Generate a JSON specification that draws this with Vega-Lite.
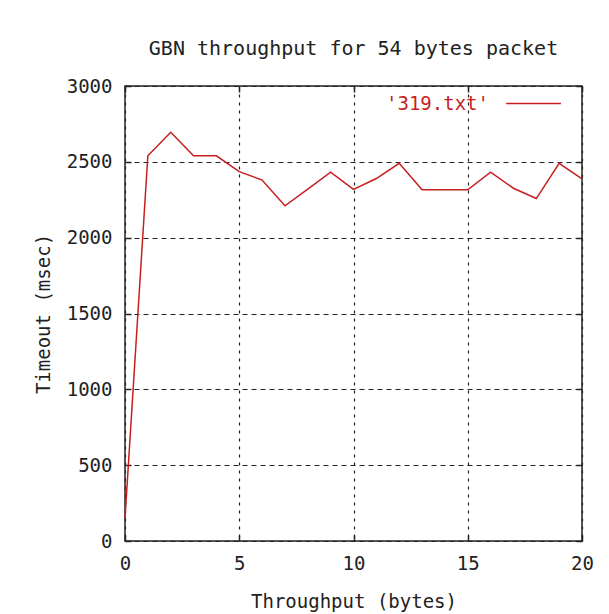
{
  "$schema": "https://vega.github.io/schema/vega-lite/v6.json",
  "width": 457,
  "height": 455,
  "autosize": "none",
  "padding": {"left": 125, "top": 86, "right": 27, "bottom": 73},
  "background": "white",
  "title": {
    "text": "GBN throughput for 54 bytes packet",
    "font": "DejaVu Sans Mono",
    "fontSize": 20,
    "fontWeight": "normal",
    "color": "#222222",
    "offset": 16
  },
  "config": {
    "view": {"stroke": "#222222", "strokeWidth": 1.5},
    "font": "DejaVu Sans Mono"
  },
  "data": {
    "values": [
      {"x": 0, "y": 150, "s": "'319.txt'"},
      {"x": 1, "y": 2540, "s": "'319.txt'"},
      {"x": 2, "y": 2695, "s": "'319.txt'"},
      {"x": 3, "y": 2540, "s": "'319.txt'"},
      {"x": 4, "y": 2540, "s": "'319.txt'"},
      {"x": 5, "y": 2435, "s": "'319.txt'"},
      {"x": 6, "y": 2380, "s": "'319.txt'"},
      {"x": 7, "y": 2210, "s": "'319.txt'"},
      {"x": 8, "y": 2320, "s": "'319.txt'"},
      {"x": 9, "y": 2432, "s": "'319.txt'"},
      {"x": 10, "y": 2318, "s": "'319.txt'"},
      {"x": 11, "y": 2390, "s": "'319.txt'"},
      {"x": 12, "y": 2490, "s": "'319.txt'"},
      {"x": 13, "y": 2316, "s": "'319.txt'"},
      {"x": 14, "y": 2316, "s": "'319.txt'"},
      {"x": 15, "y": 2316, "s": "'319.txt'"},
      {"x": 16, "y": 2432, "s": "'319.txt'"},
      {"x": 17, "y": 2326, "s": "'319.txt'"},
      {"x": 18, "y": 2258, "s": "'319.txt'"},
      {"x": 19, "y": 2490, "s": "'319.txt'"},
      {"x": 20, "y": 2388, "s": "'319.txt'"}
    ]
  },
  "layer": [
    {
      "mark": {"type": "line", "opacity": 0},
      "encoding": {
        "x": {
          "field": "x", "type": "quantitative",
          "scale": {"domain": [0, 20], "nice": false},
          "axis": {"orient": "top", "labels": false, "title": null, "domain": false, "grid": false, "offset": -6,
                   "values": [0, 5, 10, 15, 20], "tickSize": 6, "tickColor": "#222222", "tickWidth": 1.5}
        },
        "y": {
          "field": "y", "type": "quantitative",
          "scale": {"domain": [0, 3000], "nice": false},
          "axis": {"orient": "right", "labels": false, "title": null, "domain": false, "grid": false, "offset": -6,
                   "values": [0, 500, 1000, 1500, 2000, 2500, 3000], "tickSize": 6, "tickColor": "#222222", "tickWidth": 1.5}
        }
      }
    },
    {
      "mark": {"type": "line", "opacity": 0},
      "encoding": {
        "x": {
          "field": "x", "type": "quantitative",
          "scale": {"domain": [0, 20], "nice": false},
          "axis": {"orient": "bottom", "labels": false, "title": null, "domain": false, "grid": false, "offset": -6,
                   "values": [0, 5, 10, 15, 20], "tickSize": 6, "tickColor": "#222222", "tickWidth": 1.5}
        },
        "y": {
          "field": "y", "type": "quantitative",
          "scale": {"domain": [0, 3000], "nice": false},
          "axis": {"orient": "left", "labels": false, "title": null, "domain": false, "grid": false, "offset": -6,
                   "values": [0, 500, 1000, 1500, 2000, 2500, 3000], "tickSize": 6, "tickColor": "#222222", "tickWidth": 1.5}
        }
      }
    },
    {
      "mark": {"type": "line", "strokeWidth": 1.5},
      "encoding": {
        "x": {
          "field": "x", "type": "quantitative",
          "scale": {"domain": [0, 20], "nice": false},
          "axis": {
            "orient": "bottom", "title": "Throughput (bytes)", "values": [0, 5, 10, 15, 20], "format": "d",
            "domain": false, "ticks": false, "labelFlush": false,
            "labelPadding": 13, "labelFontSize": 19, "labelColor": "#222222",
            "titleFontSize": 19, "titleFontWeight": "normal", "titleColor": "#222222", "titlePadding": 19,
            "grid": true, "gridColor": "#222222", "gridDash": [3, 5], "gridWidth": 1.2
          }
        },
        "y": {
          "field": "y", "type": "quantitative",
          "scale": {"domain": [0, 3000], "nice": false},
          "axis": {
            "orient": "left", "title": "Timeout (msec)", "values": [0, 500, 1000, 1500, 2000, 2500, 3000], "format": "d",
            "domain": false, "ticks": false, "labelFlush": false,
            "labelPadding": 13, "labelFontSize": 19, "labelColor": "#222222",
            "titleFontSize": 19, "titleFontWeight": "normal", "titleColor": "#222222", "titlePadding": 13,
            "grid": true, "gridColor": "#222222", "gridDash": [5, 4], "gridWidth": 1.2
          }
        },
        "color": {
          "field": "s", "type": "nominal",
          "scale": {"range": ["#c81e1e"]},
          "legend": {
            "title": null, "orient": "none", "legendX": 380, "legendY": -11,
            "symbolType": "stroke", "symbolSize": 3000, "symbolStrokeWidth": 1.5,
            "labelAlign": "right", "labelOffset": -73, "labelFontSize": 19,
            "labelColor": "#c81e1e", "padding": 0
          }
        }
      }
    }
  ],
  "resolve": {"axis": {"x": "independent", "y": "independent"}}
}
